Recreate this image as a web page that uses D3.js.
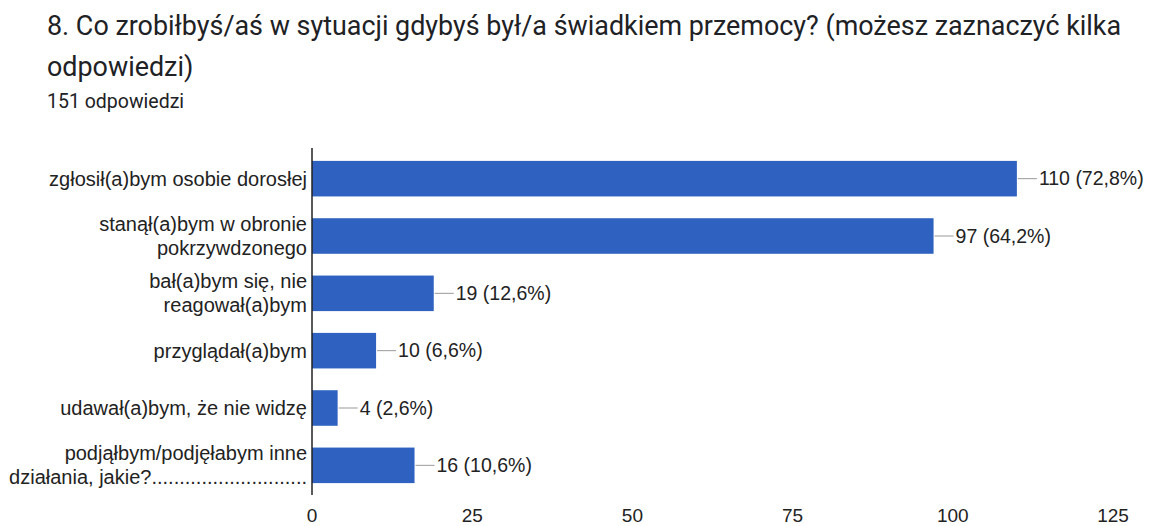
<!DOCTYPE html>
<head>
<meta charset="utf-8">
<script src="https://cdn.jsdelivr.net/npm/d3@7"></script>
<style>
body {
  margin: 0;
  background: #fff;
}
.title {
  font-family: Roboto, "Noto Sans", sans-serif;
  fill: #202124;
}
.lbl {
  font-family: "Liberation Sans", Arial, sans-serif;
  fill: #222;
}
</style>
</head>
<body>
<div id="chart"></div>
<script>

// data
const categories = [
  ["zgłosił(a)bym osobie dorosłej"],
  ["stanął(a)bym w obronie", "pokrzywdzonego"],
  ["bał(a)bym się, nie", "reagował(a)bym"],
  ["przyglądał(a)bym"],
  ["udawał(a)bym, że nie widzę"],
  ["podjąłbym/podjęłabym inne", "działania, jakie?............................"]
];
const counts = [110, 97, 19, 10, 4, 16];
const percents = ["72,8%", "64,2%", "12,6%", "6,6%", "2,6%", "10,6%"];
const ticks = [0, 25, 50, 75, 100, 125];

const width = 1150, height = 526;

const svg = d3.select("#chart").append("svg")
    .attr("width", width)
    .attr("height", height);

// title
svg.append("text").attr("class", "title")
    .attr("x", 47).attr("y", 35)
    .attr("font-size", 26.9)
    .text("8. Co zrobiłbyś/aś w sytuacji gdybyś był/a świadkiem przemocy? (możesz zaznaczyć kilka");
svg.append("text").attr("class", "title")
    .attr("x", 47).attr("y", 76)
    .attr("font-size", 26.9)
    .text("odpowiedzi)");
svg.append("text").attr("class", "title")
    .attr("x", 47).attr("y", 108)
    .attr("font-size", 19.5)
    .text("151 odpowiedzi");

let x = d3.scaleLinear().domain([0, 125]).range([312, 1113]);
let y = d3.scaleBand().domain(d3.range(counts.length)).range([150, 494])
    .paddingInner(0.38).paddingOuter(0.19);

// bars
svg.selectAll("rect.bar")
  .data(counts)
  .enter().append("rect")
    .attr("class", "bar")
    .attr("x", x(0))
    .attr("y", (d, i) => y(i))
    .attr("width", d => x(d) - x(0))
    .attr("height", y.bandwidth())
    .attr("fill", "#2f62c0");

// leader lines + value labels
svg.selectAll("line.lead")
  .data(counts)
  .enter().append("line")
    .attr("class", "lead")
    .attr("x1", d => x(d) + 1)
    .attr("x2", d => x(d) + 20)
    .attr("y1", (d, i) => y(i) + y.bandwidth() / 2)
    .attr("y2", (d, i) => y(i) + y.bandwidth() / 2)
    .attr("stroke", "#999")
    .attr("stroke-width", 1);

svg.selectAll("text.val")
  .data(counts)
  .enter().append("text")
    .attr("class", "lbl val")
    .attr("x", d => x(d) + 22)
    .attr("y", (d, i) => y(i) + y.bandwidth() / 2)
    .attr("dy", "0.35em")
    .attr("font-size", 19.5)
    .text((d, i) => d + " (" + percents[i] + ")");

// category labels
let cat = svg.selectAll("text.cat")
  .data(categories)
  .enter().append("text")
    .attr("class", "lbl cat")
    .attr("text-anchor", "end")
    .attr("font-size", 20);

cat.selectAll("tspan")
  .data((d, i) => d.map((s, j) => ({s: s, j: j, n: d.length, i: i})))
  .enter().append("tspan")
    .attr("x", 307)
    .attr("y", d => y(d.i) + y.bandwidth() / 2 + (d.j - (d.n - 1) / 2) * 24)
    .attr("dy", "0.35em")
    .text(d => d.s);

// axis
svg.append("line")
    .attr("x1", x(0)).attr("x2", x(0))
    .attr("y1", 148).attr("y2", 495)
    .attr("stroke", "#222")
    .attr("stroke-width", 1.5);

svg.selectAll("text.tick")
  .data(ticks)
  .enter().append("text")
    .attr("class", "lbl tick")
    .attr("x", d => x(d))
    .attr("y", 522)
    .attr("text-anchor", "middle")
    .attr("font-size", 19)
    .text(d => d);

</script>
</body>
